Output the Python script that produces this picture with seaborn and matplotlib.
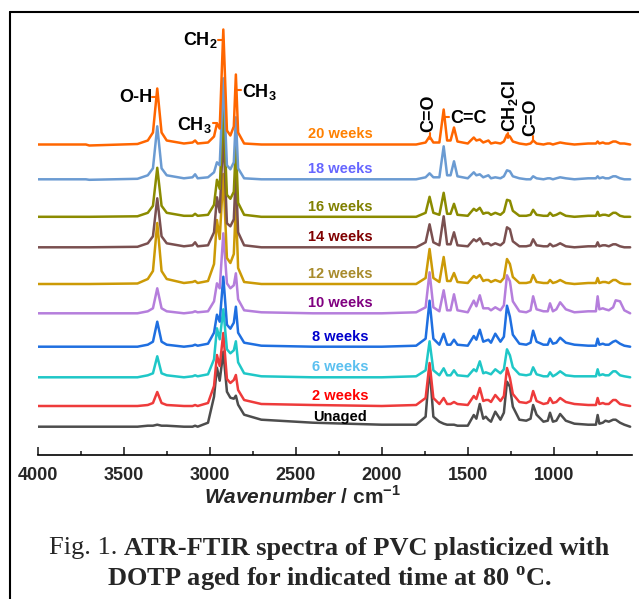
import numpy as np
import pandas as pd
import matplotlib
matplotlib.use('Agg')
import matplotlib.pyplot as plt
import seaborn as sns
from matplotlib.lines import Line2D

sns.set_style('white')
plt.rcParams['font.family'] = ['Liberation Sans', 'DejaVu Sans']
plt.rcParams['mathtext.fontset'] = 'custom'
plt.rcParams['mathtext.bf'] = 'Liberation Sans:bold'
plt.rcParams['mathtext.bfit'] = 'Liberation Sans:italic:bold'
plt.rcParams['mathtext.rm'] = 'Liberation Serif:bold'

# wavenumber grid (cm-1) shared by all spectra
wavenumber = [4000, 3720, 3700, 3420, 3360, 3330, 3305, 3280, 3250, 3150,
              3100, 3085, 3070, 3010, 2975, 2958, 2942, 2921, 2900, 2880,
              2860, 2848, 2835, 2800, 2700, 2400, 2000, 1800, 1745, 1722,
              1700, 1665, 1640, 1620, 1600, 1580, 1560, 1500, 1465, 1450,
              1430, 1410, 1395, 1380, 1365, 1340, 1310, 1290, 1272, 1255,
              1238, 1200, 1160, 1135, 1120, 1100, 1060, 1035, 1022, 1005,
              985, 963, 930, 880, 800, 755, 745, 735, 715, 700,
              680, 655, 640, 615, 590, 556]

# absorbance above each spectrum's own baseline (arbitrary units)
unaged = [0, 0, 0, 0, 1, 1, 2, 1, 1, 0,
          0, 1, 0, 4, 30, 59, 46, 75, 35, 29,
          28, 31, 22, 12, 7, 4, 2, 2, 10, 60,
          10, 5, 3, 2, 2, 2, 1, 1, 11.7, 8,
          22.7, 8, 10, 7, 5, 15, 7, 14, 45, 40,
          20, 7, 6, 8, 21.7, 12, 5, 6, 14, 5,
          6, 12.7, 6, 3, 2, 2, 11.7, 3, 4, 6,
          5, 7, 7, 4, 2, 0]
wk2 = [0, 0, 0, 0, 1, 3, 14, 3, 1, 0,
       0, 1, 0, 3, 20, 51, 40, 73, 27, 23,
       26, 31, 16, 6, 2, 1, 0, 1, 8, 43,
       8, 2, 8, 2, 2, 4, 2, 1, 10, 7,
       18, 5, 6, 6, 4, 11, 5, 10, 38, 28,
       12, 4, 3, 5, 15, 5, 2, 3, 8, 3,
       4, 8, 4, 2, 1, 1, 8, 2, 3, 2,
       2, 6, 6, 2, 1, 0]
wk6 = [0, 0, 0, 0, 2, 4, 21, 4, 2, 0,
       1, 2, 1, 3, 18, 49, 38, 68, 28, 24,
       27, 36, 15, 4, 1, 0, 0, 1, 7, 36,
       7, 2, 9, 2, 2, 7, 2, 1, 8, 6,
       16, 4, 5, 4, 3, 8, 4, 8, 28, 22,
       10, 3, 2, 3, 10, 3, 1, 1, 5, 1,
       3, 6, 2, 1, 1, 1, 8, 2, 3, 2,
       2, 6, 6, 2, 1, 0]
wk8 = [0, 0, 0, 0, 2, 5, 25, 5, 2, 0,
       1, 2, 1, 3, 14, 32, 25, 70, 22, 18,
       24, 40, 14, 4, 1, 0, 0, 1, 8, 46,
       8, 2, 13, 2, 2, 7, 2, 1, 10.7, 7,
       17, 5, 6, 7, 4, 13, 5, 10, 41, 30,
       12, 3, 2, 4, 16, 5, 2, 2, 8, 3,
       4, 9, 4, 2, 1, 1, 8, 2, 3, 2,
       2, 5, 6, 3, 1, 0]
wk10 = [0, 0, 0, 0, 2, 5, 25, 5, 2, 0,
        1, 2, 1, 2, 12, 30, 25, 80, 30, 25,
        28, 40, 14, 3, 1, 0, 0, 1, 6, 41,
        6, 2, 23, 3, 3, 19, 3, 1, 12.7, 7,
        18, 5, 5, 5, 3, 6, 3, 8, 38, 32,
        12, 2, 1, 3, 17, 4, 2, 2, 10, 2,
        4, 11, 4, 1, 2, 2, 17, 4, 5, 4,
        3, 6, 13, 12, 3, 0]
wk12 = [0, 0, 0, 0.5, 5, 13, 61, 13, 5, 1,
        2, 3, 1, 3, 20, 64, 45, 110, 26, 21,
        30, 80, 16, 2, 0, 0, 0, 0, 6, 35,
        6, 2, 27, 3, 3, 11, 2, 1, 8, 6,
        9, 3, 4, 4, 2, 4, 2, 6, 25, 20,
        7, 1, 1, 2, 9, 2, 1, 1, 4, 1,
        2, 4, 1, 0, 1, 1, 6, 1, 2, 2,
        1, 4, 4, 1, 0, 0]
wk14 = [0, 0, 0, 0.5, 4, 11, 49, 11, 4, 1,
        2, 5, 1, 2, 15, 50, 35, 115, 24, 21,
        28, 75, 15, 2, 0, 0, 0, 0, 5, 23,
        5, 2, 31, 3, 3, 15, 2, 1, 8, 6,
        9, 3, 4, 4, 2, 4, 2, 5, 20, 18,
        6, 1, 1, 2, 8, 2, 1, 1, 3.5, 1,
        2, 4, 1, 0, 1, 1, 5, 1, 2, 2,
        1, 3, 3, 1, 0, 0]
wk16 = [0, 0, 0, 0.5, 4, 11, 49, 11, 4, 1,
        1, 3, 1, 2, 12, 37, 28, 110, 22, 18,
        25, 72, 14, 2, 0, 0, 0, 0, 4, 20,
        4, 2, 24, 3, 3, 13, 2, 1, 8, 6,
        9, 3, 4, 4, 2, 4, 2, 5, 17, 16,
        6, 1, 1, 2, 7, 2, 1, 1, 4, 1,
        2, 4, 1, 0, 1, 1, 5, 1, 2, 2,
        1, 4, 4, 1, 0, 0]
wk18 = [0, 0, -0.5, 0.5, 4, 11, 53, 11, 4, 1,
        2, 5, 1, 2, 7, 17, 14, 101, 14, 10,
        17, 62, 11, 1, 0, 0, 0, 0, 2, 6,
        2, 2, 33, 4, 4, 18, 3, 1, 7, 4,
        5, 2, 3, 4, 1, 2, 1, 3, 9, 8,
        3, 1, 0, 0, 3, 1, 0, 1, 1, 0,
        1, 2, 1, 0, 1, 1, 3, 1, 2, 1,
        1, 3, 3, 1, 0, 0]
wk20 = [0, 0, -1, 0.5, 4, 12, 56, 12, 4, 1,
        2, 4, 1, 2, 8, 21, 16, 115, 14, 9,
        18, 70, 12, 1, 0, 0, 0, 0, 2, 8,
        2, 2, 35, 4, 4, 17, 3, 1, 7, 4,
        5, 2, 3, 4, 1, 2, 1, 3, 10, 8,
        3, 1, 0, 1, 4, 1, 0, 1, 1, 0,
        1, 2, 1, 0, 1, 1, 3, 1, 2, 1,
        1, 3, 3, 1, 1, 0]

samples = ['Unaged', '2 weeks', '6 weeks', '8 weeks', '10 weeks',
           '12 weeks', '14 weeks', '16 weeks', '18 weeks', '20 weeks']
spectra = [unaged, wk2, wk6, wk8, wk10, wk12, wk14, wk16, wk18, wk20]
offsets = [28.3, 49, 77.7, 108.3, 141.7, 171, 207.7, 238.2, 275.7, 310.5]

line_colors = ['#4d4d4d', '#ee3b3b', '#1fc7c7', '#1f6fe0', '#b57edc',
               '#cc9a06', '#7a5050', '#8b8b00', '#6b9bd2', '#ff6600']
label_colors = ['#000000', '#ff0000', '#5bc0f0', '#0000cc', '#800080',
                '#a88b2c', '#800000', '#808000', '#6666ff', '#ff8000']

rows = []
for name, spec, off in zip(samples, spectra, offsets):
    for w, a in zip(wavenumber, spec):
        rows.append((name, w, a + off))
df = pd.DataFrame(rows, columns=['sample', 'wavenumber', 'signal'])

fig = plt.figure(figsize=(6.39, 5.99), dpi=100)
ax = fig.add_axes([37.7 / 639, 144 / 599, 594 / 639, 435 / 599])
sns.lineplot(data=df, x='wavenumber', y='signal', hue='sample',
             hue_order=samples, palette=line_colors, sort=False,
             estimator=None, legend=False, linewidth=1.8, ax=ax)

ax.set_xlim(4000, 547)
ax.set_ylim(0, 435)
for s in ['left', 'top', 'right']:
    ax.spines[s].set_visible(False)
ax.spines['bottom'].set_linewidth(1.2)
ax.spines['bottom'].set_color('black')
ax.set_yticks([])
ax.set_xticks([4000, 3500, 3000, 2500, 2000, 1500, 1000])
ax.set_xticks([3750, 3250, 2750, 2250, 1750, 1250, 750], minor=True)
ax.tick_params(axis='x', which='major', direction='in', length=6, width=1.2,
               pad=9, labelsize=13, bottom=True)
ax.tick_params(axis='x', which='minor', direction='in', length=3, width=1.2,
               bottom=True)
for t in ax.get_xticklabels():
    t.set_fontweight('bold')
ax.set_xlabel('')
ax.set_ylabel('')

# sample labels
for name, off, c in zip(samples, offsets, label_colors):
    ax.text(2240, off + 10, name, color=c, fontsize=10.5, fontweight='bold',
            ha='center', va='center')

# band assignments
orange = '#ff6600'
kw = dict(fontsize=13, fontweight='bold', color='black')
ax.text(3336, 353, 'O-H', ha='right', va='baseline', **kw)
ax.text(2953, 410, r'CH$_\mathbf{2}$', ha='right', va='baseline', **kw)
ax.text(2811, 358, r'CH$_\mathbf{3}$', ha='left', va='baseline', **kw)
ax.text(2987, 325, r'CH$_\mathbf{3}$', ha='right', va='baseline', **kw)
ax.text(1603, 332, 'C=C', ha='left', va='baseline', **kw)
ax.text(1725, 323, 'C=O', rotation=90, ha='center', va='bottom', **kw)
ax.text(1257, 323, r'CH$_\mathbf{2}$Cl', rotation=90, ha='center',
        va='bottom', **kw)
ax.text(1132, 319, 'C=O', rotation=90, ha='center', va='bottom', **kw)

ticks = [([3335, 3308], [358, 358]), ([2952, 2928], [415, 415]),
         ([2841, 2818], [365, 365]), ([2981, 2958], [332, 332]),
         ([1636, 1607], [338, 338]), ([1722, 1722], [316, 322]),
         ([1265, 1265], [317, 322]), ([1120, 1120], [314, 319])]
for xs, ys in ticks:
    ax.plot(xs, ys, color=orange, lw=1.5)

fig.text(303 / 639, 1 - 497 / 599,
         r'$\mathbfit{Wavenumber}$ / cm$^{\mathbf{-1}}$',
         fontsize=15, fontweight='bold', ha='center', va='center')

# caption
fig.canvas.draw()
r = fig.canvas.get_renderer()
cap_size = 19
t1 = fig.text(0, 1 - 548 / 599, 'Fig. 1. ', family='Liberation Serif',
              fontsize=cap_size, ha='left', va='center')
t2 = fig.text(0, 1 - 548 / 599, 'ATR-FTIR spectra of PVC plasticized with',
              family='Liberation Serif', fontweight='bold', fontsize=cap_size,
              ha='left', va='center')
w1 = t1.get_window_extent(r).width
w2 = t2.get_window_extent(r).width
x0 = 329 - (w1 + w2) / 2
t1.set_x(x0 / 639)
t2.set_x((x0 + w1) / 639)
fig.text(329 / 639, 1 - 579 / 599,
         r'DOTP aged for indicated time at 80 $^{\mathrm{o}}$C.',
         family='Liberation Serif', fontweight='bold', fontsize=cap_size,
         ha='center', va='center')

# frame around figure
fig.add_artist(Line2D([10 / 639, 10 / 639], [0, 1 - 12 / 599],
                      transform=fig.transFigure, color='black', lw=1.5))
fig.add_artist(Line2D([10 / 639, 1], [1 - 12 / 599, 1 - 12 / 599],
                      transform=fig.transFigure, color='black', lw=1.5))

fig.savefig('out.png', dpi=100)
